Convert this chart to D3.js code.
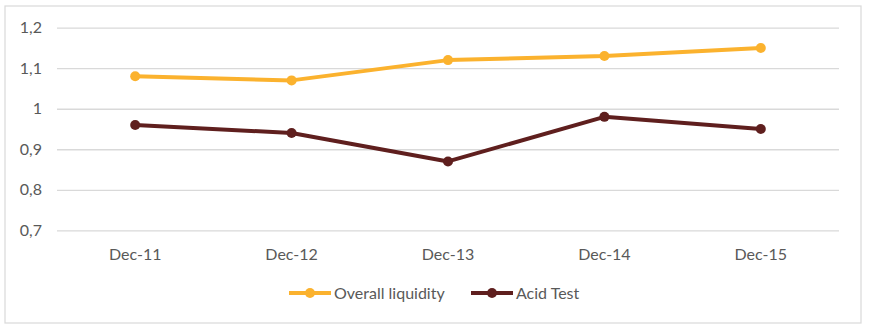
<!DOCTYPE html>
<html><head><meta charset="utf-8">
<script src="https://cdn.jsdelivr.net/npm/d3@7"></script>
<style>body{margin:0;background:#fff}svg{display:block;font-family:Lato,"Open Sans",sans-serif}</style>
</head><body>
<svg id="c" width="876" height="334"></svg>
<script>
const categories = ["Dec-11","Dec-12","Dec-13","Dec-14","Dec-15"];
const overallLiquidity = [1.08,1.07,1.12,1.13,1.15];
const acidTest = [0.96,0.94,0.87,0.98,0.95];
const yTicks = [0.7,0.8,0.9,1.0,1.1,1.2];
const seriesNames = ["Overall liquidity","Acid Test"];
const colors = ["#FBB22E","#5F1F1E"];

const svg = d3.select("#c");
svg.append("rect").attr("x",5).attr("y",6).attr("width",856).attr("height",317)
  .attr("fill","#fff").attr("stroke","#d9d9d9").attr("stroke-width",1.2);

const x = d3.scaleBand().domain(categories).range([57,839]);
const y = d3.scaleLinear().domain([0.7,1.2]).range([230.3,27.7]);
const fmt = d => d3.format("")(+d.toFixed(1)).replace(".",",");

const gy = svg.append("g").attr("transform","translate(57,0)")
  .call(d3.axisLeft(y).tickValues(yTicks).tickSize(-782).tickFormat(fmt).tickPadding(15));
gy.select(".domain").remove();
gy.selectAll(".tick line").attr("stroke","#d9d9d9").attr("stroke-width",1.3);
gy.selectAll(".tick text").attr("fill","#595959").style("font-size","16px").style("font-family","Lato,sans-serif");

const gx = svg.append("g").attr("transform","translate(0,230.3)")
  .call(d3.axisBottom(x).tickSize(0).tickPadding(18));
gx.select(".domain").remove();
gx.selectAll(".tick text").attr("fill","#595959").style("font-size","16px").style("font-family","Lato,sans-serif");

const all = [overallLiquidity, acidTest];
const line = d3.line().x((d,i)=>x(categories[i])+x.bandwidth()/2).y(d=>y(d));
all.forEach((s,k)=>{
  svg.append("path").attr("d",line(s)).attr("fill","none").attr("stroke",colors[k])
    .attr("stroke-width",4).attr("stroke-linejoin","round").attr("stroke-linecap","round");
  svg.selectAll(null).data(s).enter().append("circle")
    .attr("cx",(d,i)=>x(categories[i])+x.bandwidth()/2).attr("cy",d=>y(d)).attr("r",5)
    .attr("fill",colors[k]);
});

// legend
const legX = [289, 471];
seriesNames.forEach((n,k)=>{
  const g = svg.append("g").attr("transform",`translate(${legX[k]},293)`);
  g.append("line").attr("x1",0).attr("x2",42).attr("stroke",colors[k]).attr("stroke-width",4);
  g.append("circle").attr("cx",21).attr("r",5).attr("fill",colors[k]);
  g.append("text").attr("x",45).attr("dy","0.35em").attr("fill","#595959")
    .style("font-size","16px").text(n);
});
</script>
</body></html>
